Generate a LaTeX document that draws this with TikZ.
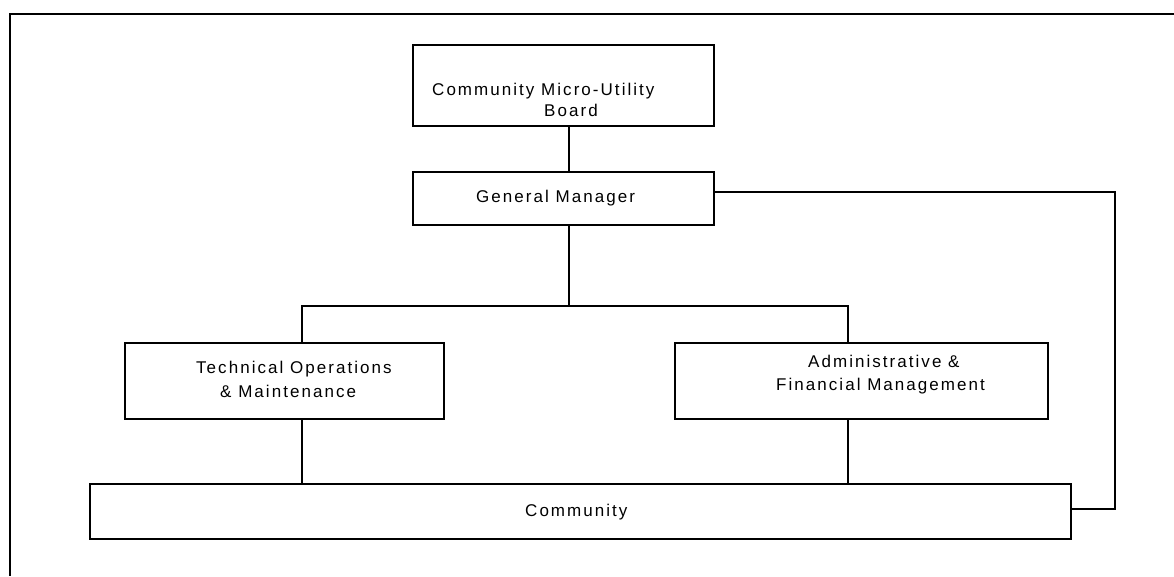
\documentclass[tikz,border=0pt]{standalone}
\usepackage{fontspec}
\setmainfont[LetterSpace=12]{Liberation Sans}
\begin{document}
\begin{tikzpicture}[x=1pt,y=-1pt,
  box/.style={draw, line width=1.3pt, rectangle, inner sep=0pt, anchor=center},
  lbl/.style={inner sep=0pt, anchor=base west, font=\fontsize{17}{20}\selectfont},
  link/.style={line width=1.3pt},
  frame/.style={line width=1.6pt}]
\useasboundingbox (0,0) rectangle (1174,576);

% page frame (top and left edges)
\draw[frame] (1174,14) -- (10,14) -- (10,576);

% boxes
\node[box, minimum width=301pt, minimum height=81pt] (board) at (563.5,85.5) {};
\node[box, minimum width=301pt, minimum height=53pt] (gm) at (563.5,198.5) {};
\node[box, minimum width=319pt, minimum height=76pt] (tech) at (284.5,381) {};
\node[box, minimum width=373pt, minimum height=76pt] (admin) at (861.5,381) {};
\node[box, minimum width=981pt, minimum height=55pt] (community) at (580.5,511.5) {};

% box texts
\node[lbl] (boardA) at (432,95) {Community Micro-Utility};
\node[lbl] (boardB) at (544,116) {Board};
\node[lbl] (gmT) at (476,202.7) {General Manager};
\node[lbl] (techA) at (196,373) {Technical Operations};
\node[lbl] (techB) at (220,397.7) {\& Maintenance};
\node[lbl] (adminA) at (808,367.7) {Administrative \&};
\node[lbl] (adminB) at (776,390) {Financial Management};
\node[lbl] (commT) at (525,516) {Community};

% reference coordinates for the connectors
\coordinate (spine) at (569,0);
\coordinate (busy) at (0,306);
\coordinate (techx) at (302,0);
\coordinate (adminx) at (848,0);
\coordinate (loopA) at (1115,192);
\coordinate (loopB) at (1115,509);

% connectors
\draw[link] (board.south -| spine) -- (gm.north -| spine);
\draw[link] (gm.south -| spine) -- (spine |- busy);
\draw[link] (tech.north -| techx) -- (techx |- busy) -- (adminx |- busy) -- (admin.north -| adminx);
\draw[link] (tech.south -| techx) -- (community.north -| techx);
\draw[link] (admin.south -| adminx) -- ([yshift=-2pt]community.north -| adminx);
\draw[link] (gm.east |- loopA) -- (loopA) -- (loopB) -- (community.east |- loopB);
\end{tikzpicture}
\end{document}
